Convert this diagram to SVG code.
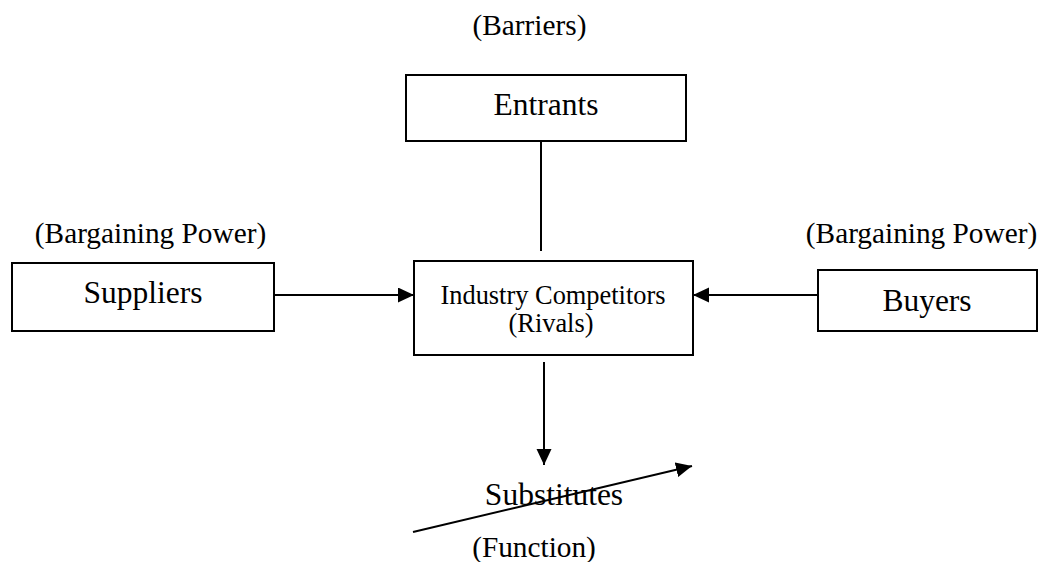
<svg xmlns="http://www.w3.org/2000/svg" width="1040" height="562" viewBox="0 0 1040 562">
  <style>
    .box { fill: #ffffff; stroke: #000000; stroke-width: 2; }
    .t { font-family: "Liberation Serif", "Times New Roman", serif; fill: #000000; text-anchor: middle; }
    .big { font-size: 31.5px; }
    .lbl { font-size: 29.3px; }
    .mid { font-size: 26.4px; }
    .edge { stroke: #000000; stroke-width: 2; fill: none; }
  </style>
  <defs>
    <marker id="arrow" markerUnits="userSpaceOnUse" markerWidth="17" markerHeight="16" refX="16" refY="7.5" orient="auto">
      <path d="M0,0 L16,7.5 L0,15 z" fill="#000000"/>
    </marker>
  </defs>
  <rect width="1040" height="562" fill="#ffffff"/>

  <!-- free-standing labels -->
  <text class="t lbl" x="529.5" y="35">(Barriers)</text>
  <text class="t lbl" x="150.5" y="243">(Bargaining Power)</text>
  <text class="t lbl" x="921.5" y="243">(Bargaining Power)</text>

  <!-- connectors -->
  <g id="connectors">
    <line class="edge" x1="541" y1="141" x2="541" y2="251"/>
    <line class="edge" x1="274" y1="295" x2="414" y2="295" marker-end="url(#arrow)"/>
    <line class="edge" x1="818" y1="295" x2="693" y2="295" marker-end="url(#arrow)"/>
    <line class="edge" x1="544" y1="362" x2="544" y2="465" marker-end="url(#arrow)"/>
    <line class="edge" x1="413" y1="532" x2="692" y2="466" marker-end="url(#arrow)"/>
  </g>

  <g id="entrants">
    <rect class="box" x="406" y="75" width="280" height="66"/>
    <text class="t big" x="546" y="115">Entrants</text>
  </g>

  <g id="suppliers">
    <rect class="box" x="12" y="263" width="262" height="68"/>
    <text class="t big" x="143" y="303">Suppliers</text>
  </g>

  <g id="industry">
    <rect class="box" x="414" y="261" width="279" height="94"/>
    <text class="t mid" x="553" y="304">Industry Competitors</text>
    <text class="t mid" x="551" y="332">(Rivals)</text>
  </g>

  <g id="buyers">
    <rect class="box" x="818" y="270" width="219" height="61"/>
    <text class="t big" x="927" y="311">Buyers</text>
  </g>

  <g id="substitutes">
    <text class="t big" x="554" y="505">Substitutes</text>
    <text class="t lbl" x="534" y="557">(Function)</text>
  </g>
</svg>
